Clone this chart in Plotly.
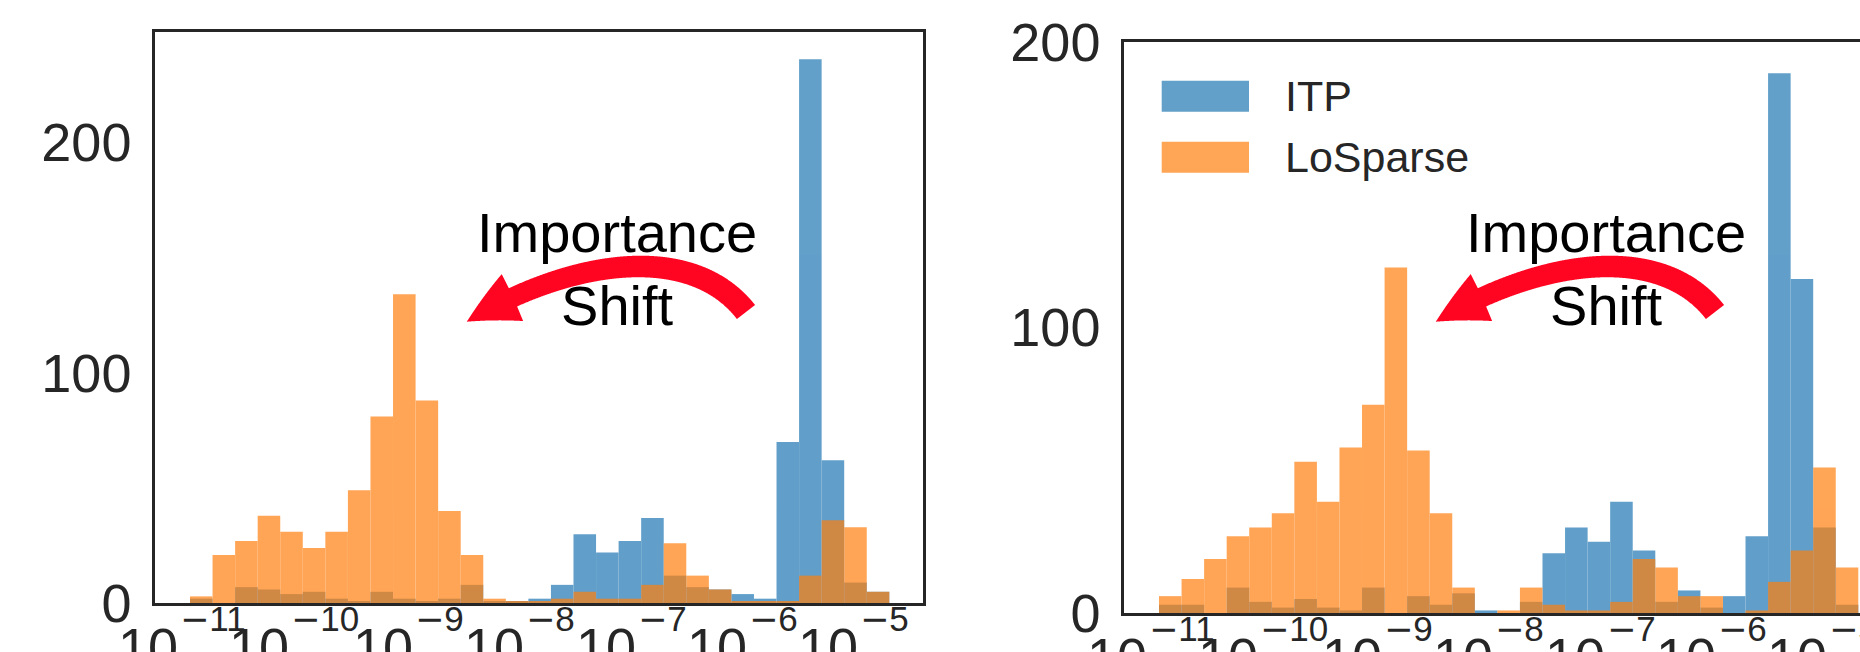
import numpy as np
import plotly.graph_objects as go

# ---------------- data ----------------
# log10 bin edges shared by both panels (31 bins)
BIN_EDGES_LOG10 = [-10.955, -10.7525, -10.55, -10.3475, -10.145, -9.9425, -9.74, -9.5375,
                   -9.335, -9.1325, -8.93, -8.7275, -8.525, -8.3225, -8.12, -7.9175,
                   -7.715, -7.5125, -7.31, -7.1075, -6.905, -6.7025, -6.5, -6.2975,
                   -6.095, -5.8925, -5.69, -5.4875, -5.285, -5.0825, -4.88, -4.6775]

LEFT_ITP = [2, 0, 7, 6, 4, 5, 2, 1, 5, 2, 1, 2, 8, 1, 1, 2,
            8, 30, 22, 27, 37, 12, 7, 6, 4, 2, 70, 236, 62, 9, 5]
LEFT_LOSPARSE = [3, 21, 27, 38, 31, 24, 31, 49, 81, 134, 88, 40, 21, 2, 1, 1,
                 2, 5, 2, 2, 8, 26, 12, 6, 1, 1, 1, 12, 36, 33, 5]

RIGHT_ITP = [3, 3, 0, 9, 4, 2, 5, 2, 1, 9, 0, 6, 3, 7, 1, 0,
             4, 21, 30, 25, 39, 22, 4, 8, 2, 6, 27, 189, 117, 30, 3]
RIGHT_LOSPARSE = [6, 12, 19, 27, 30, 35, 53, 39, 58, 73, 121, 57, 35, 9, 0, 1,
                  9, 3, 1, 1, 4, 19, 16, 6, 6, 0, 1, 11, 22, 51, 16]

SERIES_NAMES = ["ITP", "LoSparse"]
TICK_EXPONENTS = [-11, -10, -9, -8, -7, -6, -5]
Y_TICKS = [0, 100, 200]
NOTE_LINES = ["Importance", "Shift"]

# ---------------- style / layout constants ----------------
W, H = 1860, 652
FONT = "Liberation Sans, Arial, Helvetica, sans-serif"
DARK = "#262626"
BLUE = "#1f77b4"
ORANGE = "#ff7f0e"
ALPHA = 0.7
RED = "#ff0522"
PX_PER_DECADE = 111.4

edges = np.array(BIN_EDGES_LOG10)
centers = (edges[:-1] + edges[1:]) / 2
widths = np.diff(edges)

panels = [
    dict(xa="x", ya="y", x0=155, x1=923, ytop=32.0, ybot=603.3, ymax=247.8,
         itp=LEFT_ITP, los=LEFT_LOSPARSE, text_rel=462),
    dict(xa="x2", ya="y2", x0=1124, x1=1860, ytop=41.7, ybot=613.3, ymax=200.0,
         itp=RIGHT_ITP, los=RIGHT_LOSPARSE, text_rel=482),
]

fig = go.Figure()
layout_axes = {}
annotations = []
shapes = []


def px2paper(px, py):
    return px / W, 1 - py / H


def bez(t, P):
    mt = 1 - t
    return mt**3 * P[0] + 3 * mt**2 * t * P[1] + 3 * mt * t**2 * P[2] + t**3 * P[3]


def arrow_path(dx):
    # curved arrow geometry in pixel space of the left panel, shifted by dx
    P = [np.array(p, float) for p in [(746, 312), (691.2, 241.9), (571.1, 258.8), (466.8, 321.7)]]
    ts = np.linspace(0, 1, 600)
    pts = np.array([bez(t, P) for t in ts])
    seg = np.hypot(*np.diff(pts, axis=0).T)
    s = np.concatenate([[0], np.cumsum(seg)])
    L = s[-1]
    head_len, head_hw = 52.0, 26.0
    tang = np.gradient(pts, axis=0)
    tang /= np.hypot(tang[:, 0], tang[:, 1])[:, None]
    nrm = np.stack([-tang[:, 1], tang[:, 0]], 1)
    sh = L - head_len
    body = s <= sh
    head = s > sh
    ih = np.argmax(head)  # first head index
    body_hw = 11.5 - 1.5 * (s / sh)
    A, B = [], []
    for i in np.where(body)[0]:
        A.append(pts[i] + nrm[i] * body_hw[i])
        B.append(pts[i] - nrm[i] * body_hw[i])
    A.append(pts[ih] + nrm[ih] * head_hw)
    B.append(pts[ih] - nrm[ih] * head_hw)
    for i in np.where(head)[0]:
        hw = head_hw * (L - s[i]) / head_len
        A.append(pts[i] + nrm[i] * hw)
        B.append(pts[i] - nrm[i] * hw)
    poly = A + B[::-1]
    parts = []
    for k, p in enumerate(poly):
        xp, yp = px2paper(p[0] + dx, p[1])
        parts.append(("M" if k == 0 else "L") + f"{xp:.5f},{yp:.5f}")
    return " ".join(parts) + " Z"


for k, pn in enumerate(panels):
    fig.add_trace(go.Bar(x=centers, y=pn["itp"], width=widths, name=SERIES_NAMES[0],
                         marker=dict(color=BLUE, line=dict(width=0)), opacity=ALPHA,
                         xaxis=pn["xa"], yaxis=pn["ya"], showlegend=False))
    fig.add_trace(go.Bar(x=centers, y=pn["los"], width=widths, name=SERIES_NAMES[1],
                         marker=dict(color=ORANGE, line=dict(width=0)), opacity=ALPHA,
                         xaxis=pn["xa"], yaxis=pn["ya"], showlegend=False))

    x_lo = edges[0] - (190 - 155) / PX_PER_DECADE
    x_hi = x_lo + (pn["x1"] - pn["x0"]) / PX_PER_DECADE
    xkey = "xaxis" if k == 0 else "xaxis2"
    ykey = "yaxis" if k == 0 else "yaxis2"
    layout_axes[xkey] = dict(
        domain=[pn["x0"] / W, pn["x1"] / W], range=[x_lo, x_hi], anchor=pn["ya"],
        showgrid=False, zeroline=False, showticklabels=False, ticks="",
        automargin=False,
        showline=True, linecolor=DARK, linewidth=2.5, mirror=True)
    layout_axes[ykey] = dict(
        domain=[1 - pn["ybot"] / H, 1 - pn["ytop"] / H], range=[0, pn["ymax"]],
        anchor=pn["xa"], tickvals=Y_TICKS, ticks="", ticklabelstandoff=10,
        tickfont=dict(family=FONT, size=54, color=DARK), automargin=False,
        showgrid=False, zeroline=False, showline=True, linecolor=DARK,
        linewidth=2.5, mirror=(k == 0))

    # x tick labels: "10" with a raised exponent (matplotlib mathtext look)
    for e in TICK_EXPONENTS:
        exp_txt = ('<span style="font-family:DejaVu Sans">\u2212</span>' + str(abs(e)))
        jb = -6 if abs(e) >= 10 else 6
        annotations.append(dict(
            x=e, xref=pn["xa"], y=1 - (pn["ybot"] + 12.4) / H, yref="paper",
            text="10", showarrow=False, xanchor="right", yanchor="top",
            xshift=jb, borderpad=0,
            font=dict(family=FONT, size=54, color=DARK)))
        annotations.append(dict(
            x=e, xref=pn["xa"], y=1 - (pn["ybot"] - 5.3) / H, yref="paper",
            text=exp_txt, showarrow=False, xanchor="left", yanchor="top",
            xshift=jb, borderpad=0,
            font=dict(family=FONT, size=35, color=DARK)))

    tx, ty = px2paper(pn["x0"] + pn["text_rel"], 269)
    annotations.append(dict(
        x=tx, y=ty, xref="paper", yref="paper", text="<br>".join(NOTE_LINES),
        showarrow=False, xanchor="center", yanchor="middle", align="center",
        font=dict(family=FONT, size=56, color="black")))
    shapes.append(dict(type="path", xref="paper", yref="paper",
                       path=arrow_path(pn["x0"] - 155),
                       fillcolor=RED, line=dict(width=0), layer="above"))

# custom legend in the right panel (large patches like matplotlib)
leg_items = [(SERIES_NAMES[0], BLUE, 80.7, 111.7), (SERIES_NAMES[1], ORANGE, 141.7, 172.7)]
for name, col, yt, yb in leg_items:
    x0p, y1p = px2paper(1161.7, yt)
    x1p, y0p = px2paper(1249, yb)
    shapes.append(dict(type="rect", xref="paper", yref="paper", x0=x0p, x1=x1p,
                       y0=y0p, y1=y1p, fillcolor=col, opacity=ALPHA, line=dict(width=0)))
    lx, ly = px2paper(1283, (yt + yb) / 2)
    annotations.append(dict(x=lx, y=ly, xref="paper", yref="paper", text=name,
                            showarrow=False, xanchor="left", yanchor="middle",
                            font=dict(family=FONT, size=43, color=DARK)))

fig.update_layout(
    width=W, height=H, margin=dict(l=0, r=0, t=0, b=0, autoexpand=False),
    paper_bgcolor="white", plot_bgcolor="white",
    barmode="overlay", showlegend=False,
    annotations=annotations, shapes=shapes,
    **layout_axes)

fig.write_html(
    "out.html",
    config={"displayModeBar": False},
    post_script="document.body.style.margin='0px';document.body.style.padding='0px';"
                "document.body.style.overflow='hidden';")
